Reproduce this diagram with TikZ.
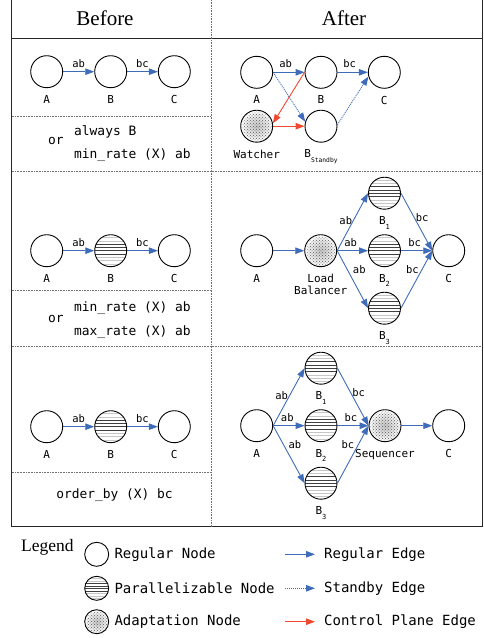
\documentclass[tikz,border=0pt]{standalone}
\usepackage{fontspec}
\setmainfont{Liberation Serif}
\setmonofont{DejaVu Sans Mono}
\usetikzlibrary{arrows.meta,patterns,fadings}
\definecolor{edgeblue}{RGB}{62,108,184}
\definecolor{ctlred}{RGB}{242,72,48}
\newcommand\lowsub[2][7]{\raisebox{-4.5pt}{\fontsize{#1}{8}\selectfont #2}}

\tikzset{
  frame/.style={black!85,line width=0.9pt},
  sep/.style={black!55,line width=0.8pt,dash pattern=on 0.8pt off 0.8pt},
  head/.style={font=\fontsize{21}{24}\selectfont,inner sep=0pt},
  cond/.style={font=\ttfamily\fontsize{12.9}{14}\selectfont,inner sep=0pt},
  lbl/.style={font=\ttfamily\fontsize{11}{12}\selectfont,inner sep=1pt,align=center},
  elbl/.style={font=\ttfamily\fontsize{10.5}{11}\selectfont,inner sep=1pt,text=black},
  legtxt/.style={font=\ttfamily\fontsize{14}{16}\selectfont,anchor=west,inner sep=0pt},
  regnode/.style={circle,draw,line width=0.9pt,minimum size=32pt,inner sep=0pt},
  parnode/.style={regnode,path picture={
    \foreach \k/\c in {-4/gray!45,-3/gray!45,-2/gray!45,-1/black!75,0/black!75,1/black!75,2/black!75,3/gray!45,4/gray!45}
      \draw[\c,line width=0.5pt] ([yshift=\k*#1pt]path picture bounding box.west) -- ([yshift=\k*#1pt]path picture bounding box.east);}},
  parnode/.default=3.3,
  adanode/.style={regnode,inner color=gray!45,outer color=white,
    postaction={pattern=crosshatch dots,pattern color=black!65,path fading=circle with fuzzy edge 20 percent}},
  regedge/.style={edgeblue,line width=0.9pt,-{Triangle[length=9pt,width=6.5pt]}},
  sbyedge/.style={regedge,dash pattern=on 1pt off 1pt},
  ctledge/.style={regedge,ctlred}
}

\begin{document}
\begin{tikzpicture}[x=1pt,y=-1pt,label distance=6pt]
\useasboundingbox (0,0) rectangle (484,638);
% table
\draw[frame] (11.7,0) -- (11.7,526.7) -- (482,526.7) -- (482,0);
\draw[frame] (11.7,38.7) -- (482,38.7);
\draw[sep] (211,0) -- (211,526.7);
\draw[sep] (11.7,116.7) -- (211,116.7);
\draw[sep] (11.7,171) -- (482,171);
\draw[sep] (11.7,290.7) -- (211,290.7);
\draw[sep] (11.7,346.7) -- (482,346.7);
\draw[sep] (11.7,472.7) -- (211,472.7);
\node[head] (before) at (105,18) {Before};
\node[head] (after) at (344,18) {After};

% before
\node[regnode,label={[lbl]below:A}] (a1) at (46.7,71.7) {};
\node[regnode,label={[lbl]below:B}] (b1) at (110.7,71.7) {};
\node[regnode,label={[lbl]below:C}] (c1) at (174.3,71.7) {};
\draw[regedge] (a1) -- node[elbl,above=3pt] {ab} (b1);
\draw[regedge] (b1) -- node[elbl,above=3pt] {bc} (c1);
\node[cond,anchor=west] (alw1) at (74,132) {always B};
\node[cond,anchor=west] (minr1) at (74,155) {min\_rate (X) ab};
\node[cond] (or1) at (56,141) {or};

\node[regnode,label={[lbl]below:A}] (a2) at (46.7,250.7) {};
\node[parnode,label={[lbl]below:B}] (b2) at (110.7,250.7) {};
\node[regnode,label={[lbl]below:C}] (c2) at (174.3,250.7) {};
\draw[regedge] (a2) -- node[elbl,above=3pt] {ab} (b2);
\draw[regedge] (b2) -- node[elbl,above=3pt] {bc} (c2);
\node[cond,anchor=west] (minr2) at (74,307.7) {min\_rate (X) ab};
\node[cond,anchor=west] (maxr2) at (74,331.7) {max\_rate (X) ab};
\node[cond] (or2) at (56,318.5) {or};

\node[regnode,label={[lbl]below:A}] (a3) at (46.7,426.7) {};
\node[parnode,label={[lbl]below:B}] (b3) at (110.7,426.7) {};
\node[regnode,label={[lbl]below:C}] (c3) at (174.3,426.7) {};
\draw[regedge] (a3) -- node[elbl,above=3pt] {ab} (b3);
\draw[regedge] (b3) -- node[elbl,above=3pt] {bc} (c3);
\node[cond] (ordb3) at (114.5,495) {order\_by (X) bc};

% after: standby
\node[regnode,label={[lbl]below:A}] (sa) at (256.7,72.3) {};
\node[regnode,label={[lbl]below:B}] (sb) at (321,72.3) {};
\node[regnode,label={[lbl]below:C}] (sc) at (384.3,72.3) {};
\node[adanode,label={[lbl]below:Watcher}] (sw) at (256.7,126.2) {};
\node[regnode,label={[lbl]below:B\lowsub[6.3]{Standby}}] (sbs) at (321,126.2) {};
\draw[regedge] (sa) -- node[elbl,above=3pt,pos=0.4] {ab} (sb);
\draw[regedge] (sb) -- node[elbl,above=3pt,pos=0.4] {bc} (sc);
\draw[sbyedge] (sa.east) -- (sbs.164);
\draw[sbyedge] (sbs.5) -- (sc.195);
\draw[ctledge] (sb.west) -- (sw.10);
\draw[ctledge] (sw.east) -- (sbs.west);

% after: load balancer
\node[regnode,label={[lbl]below:A}] (la) at (256.7,250.7) {};
\node[adanode,label={[lbl]below:Load\\Balancer}] (llb) at (320.7,250.7) {};
\node[parnode,label={[lbl]below:B\lowsub{1}}] (lb1) at (384.5,193.2) {};
\node[parnode,label={[lbl]below:B\lowsub{2}}] (lb2) at (384.5,250.7) {};
\node[parnode,label={[lbl]below:B\lowsub{3}}] (lb3) at (384.5,308.2) {};
\node[regnode,label={[lbl]below:C}] (lc) at (448.7,250.7) {};
\draw[regedge] (la) -- (llb);
\draw[regedge] (llb.east) -- node[elbl,pos=0.53,left] {ab} (lb1.west);
\draw[regedge] (llb.east) -- node[elbl,pos=0.44,above=3pt] {ab} (lb2.west);
\draw[regedge] (llb.east) -- node[elbl,pos=0.32,right=4.5pt] {ab} (lb3.west);
\draw[regedge] (lb1.east) -- node[elbl,pos=0.43,right] {bc} (lc.west);
\draw[regedge] (lb2.east) -- node[elbl,pos=0.44,above=3pt] {bc} (lc.west);
\draw[regedge] (lb3.east) -- node[elbl,pos=0.68,left=2pt] {bc} (lc.west);

% after: sequencer
\node[regnode,label={[lbl]below:A}] (qa) at (256.7,425.7) {};
\node[parnode,label={[lbl]below:B\lowsub{1}}] (qb1) at (321,368.2) {};
\node[parnode,label={[lbl]below:B\lowsub{2}}] (qb2) at (321,425.7) {};
\node[parnode,label={[lbl]below:B\lowsub{3}}] (qb3) at (321,483.2) {};
\node[adanode,label={[lbl]below:Sequencer}] (qs) at (385,425.7) {};
\node[regnode,label={[lbl]below:C}] (qc) at (448.7,425.7) {};
\draw[regedge] (qa.east) -- node[elbl,pos=0.52,left] {ab} (qb1.west);
\draw[regedge] (qa.east) -- node[elbl,pos=0.45,above=3pt] {ab} (qb2.west);
\draw[regedge] (qa.east) -- node[elbl,pos=0.32,right=4pt] {ab} (qb3.west);
\draw[regedge] (qb1.east) -- node[elbl,pos=0.43,right] {bc} (qs.west);
\draw[regedge] (qb2.east) -- node[elbl,pos=0.43,above=3pt] {bc} (qs.west);
\draw[regedge] (qb3.east) -- node[elbl,pos=0.68,left=3pt] {bc} (qs.west);
\draw[regedge] (qs) -- (qc);

% legend
\node[font=\fontsize{17.5}{20}\selectfont,inner sep=0pt] (leg) at (47.3,547.7) {Legend};
\node[regnode,minimum size=24pt] (lgreg) at (96.7,554.3) {};
\node[parnode=2.5,minimum size=24pt] (lgpar) at (96.7,588.3) {};
\node[adanode,minimum size=24pt] (lgada) at (96.7,621.7) {};
\node[legtxt] (lgregt) at (114.3,554.3) {Regular Node};
\node[legtxt] (lgpart) at (114.3,588.3) {Parallelizable Node};
\node[legtxt] (lgadat) at (114.3,621.7) {Adaptation Node};
\coordinate (e1a) at (285,554.3); \coordinate (e1b) at (315,554.3);
\coordinate (e2a) at (285,588.3); \coordinate (e2b) at (315,588.3);
\coordinate (e3a) at (285,621.7); \coordinate (e3b) at (315,621.7);
\draw[regedge] (e1a) -- (e1b);
\draw[sbyedge] (e2a) -- (e2b);
\draw[ctledge] (e3a) -- (e3b);
\node[legtxt] (lgrege) at (324,554.3) {Regular Edge};
\node[legtxt] (lgsbye) at (324,588.3) {Standby Edge};
\node[legtxt] (lgctle) at (324,621.7) {Control Plane Edge};
\end{tikzpicture}
\end{document}
